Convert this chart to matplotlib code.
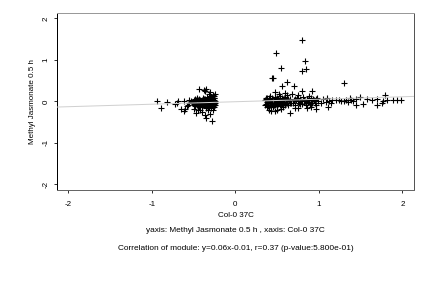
import matplotlib
matplotlib.use("Agg")
import matplotlib.pyplot as plt

plt.rcParams['font.family'] = ['Liberation Sans', 'DejaVu Sans']

# left group (x < 0)
left_x = [-0.52, -0.50, -0.50, -0.48, -0.48, -0.47, -0.46, -0.45, -0.44, -0.44, -0.43, -0.42,
          -0.41, -0.40, -0.40, -0.39, -0.38, -0.37, -0.37, -0.36, -0.35, -0.35, -0.34, -0.33,
          -0.33, -0.32, -0.31, -0.31, -0.30, -0.30, -0.29, -0.29, -0.28, -0.28, -0.27, -0.27,
          -0.26, -0.26, -0.25, -0.25, -0.25, -0.24, -0.24,
          -0.51, -0.49, -0.47, -0.46, -0.45, -0.43, -0.42, -0.41, -0.39, -0.38, -0.36, -0.35,
          -0.34, -0.32, -0.31, -0.29, -0.28, -0.27, -0.26, -0.25, -0.24, -0.24, -0.53, -0.49,
          -0.44, -0.39, -0.34, -0.29, -0.26, -0.31, -0.37, -0.42,
          -0.43, -0.38, -0.35, -0.36, -0.30, -0.32, -0.28, -0.35, -0.36, -0.47, -0.40, -0.30,
          -0.27, -0.33, -0.42, -0.50, -0.45,
          -0.94, -0.89, -0.82, -0.72, -0.70, -0.68, -0.65, -0.62, -0.60, -0.62, -0.58, -0.56,
          -0.55, -0.57]
left_y = [-0.02, 0.03, -0.08, -0.12, 0.05, -0.03, 0.08, -0.06, 0.01, -0.14, 0.06, -0.09,
          -0.02, 0.04, -0.13, 0.09, -0.05, 0.02, -0.10, 0.06, -0.15, -0.01, 0.10, -0.07,
          0.03, -0.12, 0.07, -0.03, 0.12, -0.09, 0.01, -0.16, 0.05, -0.06, 0.15, -0.11,
          -0.02, 0.08, -0.13, 0.03, -0.07, 0.18, -0.04,
          -0.05, -0.01, 0.02, -0.10, 0.04, -0.04, 0.00, -0.07, -0.03, 0.06, -0.08, 0.03,
          -0.04, 0.00, -0.07, -0.04, 0.09, -0.02, -0.09, 0.07, 0.01, -0.09, 0.00, -0.05,
          -0.09, -0.08, -0.11, 0.08, 0.12, -0.13, -0.01, 0.03,
          0.30, 0.28, 0.29, 0.26, 0.22, 0.17, -0.48, -0.41, -0.32, -0.28, -0.25, -0.30,
          -0.22, -0.21, -0.20, -0.18, -0.22,
          0.01, -0.17, -0.02, -0.06, -0.04, 0.00, -0.18, -0.23, -0.18, 0.01, -0.12, -0.05,
          0.03, -0.08]

# right group (x > 0)
right_x = [0.36, 0.37, 0.38, 0.39, 0.40, 0.41, 0.41, 0.42, 0.43, 0.44, 0.45, 0.46,
           0.47, 0.48, 0.49, 0.50, 0.51, 0.52, 0.53, 0.54, 0.55, 0.56, 0.57, 0.58,
           0.59, 0.60, 0.61, 0.62, 0.63, 0.64, 0.66, 0.67, 0.38, 0.42, 0.46, 0.50,
           0.54, 0.58, 0.62, 0.37, 0.45, 0.53, 0.60,
           0.36, 0.37, 0.39, 0.40, 0.42, 0.43, 0.44, 0.46, 0.47, 0.49, 0.51, 0.52,
           0.55, 0.56, 0.57, 0.59, 0.61, 0.63, 0.65, 0.38, 0.41, 0.48, 0.50, 0.58,
           0.70, 0.72, 0.74, 0.76, 0.78, 0.80, 0.81, 0.83, 0.85, 0.86, 0.88, 0.90,
           0.92, 0.94, 0.96, 0.97, 0.99, 0.73, 0.79, 0.84, 0.91,
           0.69, 0.71, 0.75, 0.77, 0.82, 0.87, 0.89, 0.93, 0.95, 0.98,
           1.02, 1.05, 1.08, 1.10, 1.12, 1.14, 1.16, 1.20, 1.24, 1.27,
           0.40, 0.43, 0.47, 0.50, 0.65, 0.72, 0.75, 0.86, 0.96, 1.11, 0.90, 0.55,
           0.44, 0.45, 0.80, 0.49, 0.835, 0.55, 0.84, 0.80, 0.62, 0.56, 0.70, 1.30,
           0.80, 0.92, 0.48, 0.59, 0.68, 0.75, 0.88, 0.52,
           1.30, 1.33, 1.37, 1.41, 1.45, 1.45, 1.49, 1.53, 1.57, 1.64, 1.70, 1.70,
           1.75, 1.77, 1.79, 1.82, 1.89, 1.93, 1.98, 1.35, 1.39]
right_y = [0.02, -0.06, 0.08, -0.12, 0.00, 0.05, -0.09, 0.12, -0.03, 0.07, -0.14, 0.02,
           -0.06, 0.10, -0.01, -0.11, 0.05, -0.04, 0.13, -0.08, 0.01, 0.07, -0.13, -0.02,
           0.09, -0.07, 0.03, 0.15, -0.10, 0.00, 0.06, -0.05, -0.02, -0.05, 0.04, 0.03,
           -0.01, 0.05, -0.04, 0.05, -0.09, 0.08, 0.10,
           -0.10, 0.07, -0.04, 0.09, 0.02, -0.11, -0.06, -0.08, 0.04, 0.06, -0.07, 0.01,
           -0.11, -0.03, 0.04, -0.09, -0.04, 0.05, -0.03, -0.13, 0.01, -0.03, 0.07, 0.06,
           0.02, -0.08, 0.08, -0.03, 0.05, -0.06, 0.10, 0.00, -0.09, 0.06, -0.02, 0.08,
           -0.05, 0.03, -0.08, 0.06, 0.00, 0.04, 0.01, -0.04, 0.02,
           -0.05, 0.06, 0.01, -0.07, 0.04, 0.02, -0.07, 0.05, -0.03, 0.07,
           -0.04, 0.05, -0.02, 0.07, 0.01, -0.05, 0.03, 0.02, 0.03, 0.00,
           -0.22, -0.24, -0.24, -0.20, -0.29, -0.16, -0.16, -0.16, -0.18, -0.13, -0.14, -0.18,
           0.57, 0.55, 1.48, 1.17, 0.97, 0.80, 0.78, 0.73, 0.46, 0.37, 0.38, 0.44,
           0.25, 0.25, 0.22, 0.20, 0.18, 0.15, 0.14, 0.17,
           0.01, 0.02, 0.07, 0.01, 0.05, -0.09, 0.10, -0.06, 0.05, 0.03, 0.06, -0.08,
           -0.04, 0.00, 0.16, 0.02, 0.04, 0.02, 0.04, -0.02, 0.03]

slope = 0.06
intercept = -0.01
ticks = [-2, -1, 0, 1, 2]

fig = plt.figure(figsize=(6, 4), dpi=72)
ax = fig.add_axes([0.1327, 0.340, 0.825, 0.615])

ax.scatter(left_x, left_y, marker='+', s=26, c='black', linewidths=1.1)
ax.scatter(right_x, right_y, marker='+', s=26, c='black', linewidths=1.1)

xlim = (-2.13, 2.135)
ax.plot(xlim, [slope * v + intercept for v in xlim], color='#d0d0d0', lw=1.0, zorder=3)

ax.set_xlim(xlim)
ax.set_ylim(-2.14, 2.13)
ax.set_xticks(ticks)
ax.set_yticks(ticks)
ax.set_xticklabels([str(t) for t in ticks], fontsize=8)
ax.set_yticklabels([str(t) for t in ticks], fontsize=8, rotation=90, va='center')
ax.tick_params(direction='out', length=3, width=0.8)
ax.tick_params(axis='x', pad=8)
ax.tick_params(axis='y', pad=5)

ax.spines['left'].set_color('black')
ax.spines['top'].set_color('#999999')
ax.spines['right'].set_color('#555555')
ax.spines['bottom'].set_color('#666666')
for s in ax.spines.values():
    s.set_linewidth(1.0)

ax.set_xlabel('Col-0 37C', fontsize=8, labelpad=4)
ax.set_ylabel('Methyl Jasmonate 0.5 h', fontsize=8, labelpad=6)

cx = (0.1327 + 0.825 / 2) * 432
fig.text(cx, 288 - 230, 'yaxis: Methyl Jasmonate 0.5 h , xaxis: Col-0 37C',
         fontsize=8.3, ha='center', va='center', transform=None)
fig.text(cx, 288 - 249, 'Correlation of module: y=0.06x-0.01, r=0.37 (p-value:5.800e-01)',
         fontsize=8.3, ha='center', va='center', transform=None)

fig.savefig('out.png', dpi=72)
